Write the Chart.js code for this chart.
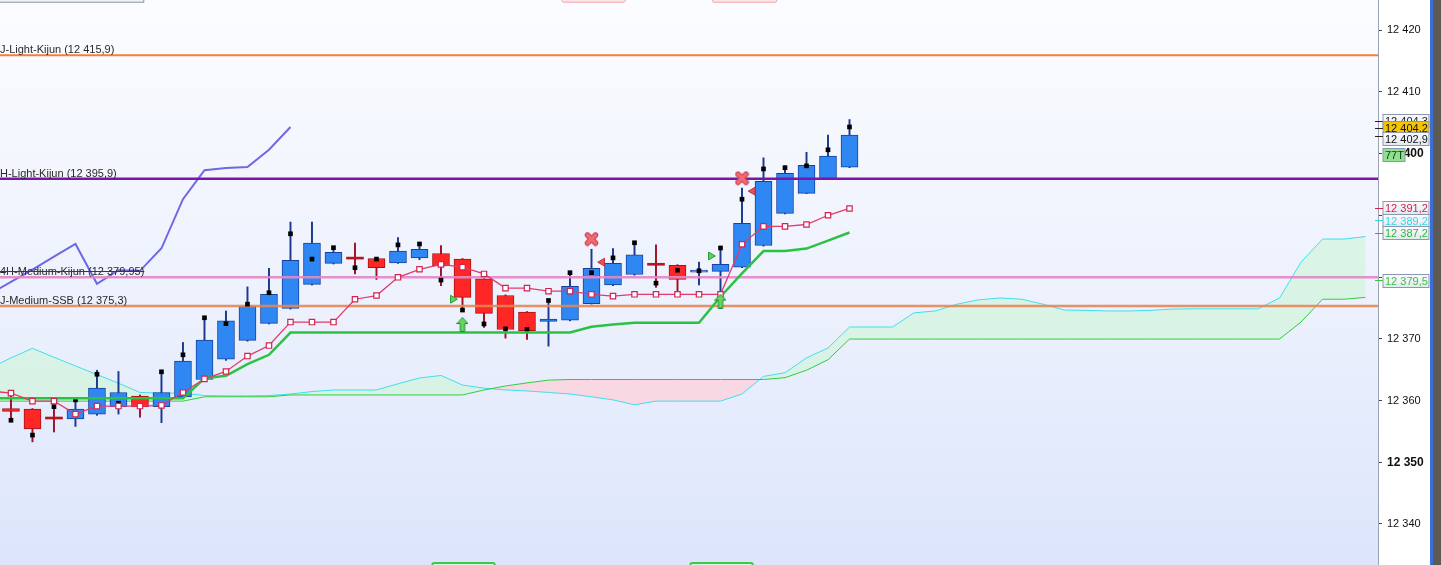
<!DOCTYPE html>
<html>
<head>
<meta charset="utf-8">
<title>Ichimoku chart</title>
<script src="https://cdn.jsdelivr.net/npm/chart.js@4/dist/chart.umd.min.js"></script>
<style>
html,body{margin:0;padding:0;background:#ffffff;overflow:hidden;}
#box{position:relative;width:1441px;height:565px;}
canvas{display:block;}
</style>
</head>
<body>
<div id="box"><canvas id="chart" width="1441" height="565"></canvas></div>
<script>
// ---------- DATA ----------
const bars = Array.from({length: 40}, (_, i) => i);
const opens  = [12358.7,12358.6,12357.0,12357.0,12357.8,12359.0,12360.7,12359.0,12360.6,12363.4,12366.7,12369.75,12372.5,12374.9,12378.8,12382.2,12382.9,12383.0,12382.3,12383.1,12383.8,12382.9,12379.7,12377.0,12374.3,12372.8,12373.0,12375.7,12378.7,12380.4,12381.9,12381.9,12380.8,12380.9,12381.6,12385.1,12390.3,12393.55,12395.9,12397.8];
const highs  = [12361.2,12358.7,12359.3,12360.1,12364.9,12364.7,12360.9,12364.9,12369.4,12373.4,12374.5,12378.4,12381.4,12388.9,12388.9,12384.9,12385.5,12383.2,12386.4,12385.3,12385.1,12383.0,12379.8,12377.1,12374.4,12376.2,12380.7,12384.5,12384.6,12385.6,12385.2,12382.0,12382.4,12385.0,12394.4,12399.3,12398.0,12400.2,12403.0,12405.5];
const lows   = [12356.8,12353.3,12354.9,12355.8,12357.6,12357.8,12357.3,12356.4,12360.4,12363.2,12366.5,12369.6,12372.4,12374.8,12378.7,12382.1,12380.5,12379.6,12382.2,12382.8,12378.6,12374.7,12371.85,12370.1,12369.9,12368.8,12372.9,12375.6,12378.6,12380.3,12378.3,12377.25,12378.7,12376.8,12381.5,12385.0,12390.2,12393.5,12395.8,12397.7];
const closes = [12358.25,12355.4,12357.0,12358.6,12362.0,12361.3,12359.0,12361.3,12366.4,12369.8,12372.9,12375.3,12377.2,12382.7,12385.5,12384.0,12382.9,12381.5,12384.2,12384.5,12381.8,12376.7,12374.1,12371.5,12371.3,12373.2,12378.5,12381.4,12382.2,12383.6,12381.9,12379.6,12381.1,12382.05,12388.7,12395.5,12396.8,12398.1,12399.6,12403.0];
const dots   = [12356.8,12354.4,12359.0,12360.1,12364.25,12359.55,null,12364.65,12367.4,12373.4,12372.45,12375.6,12377.45,12387.0,12382.9,12384.75,12381.5,12382.9,12385.2,12385.35,12379.5,12374.65,12372.4,12371.6,12371.5,12376.2,12380.7,12380.7,12383.1,12385.55,12379.0,12381.1,12381.0,12384.7,12392.6,12397.5,12397.7,12398.0,12400.6,12404.3];

// lines starting at bar -1
const LINE_START = -1;
const tenkan = [12361.55,12361.2,12359.9,12359.9,12357.8,12359.1,12359.1,12359.1,12359.2,12361.3,12363.5,12364.7,12367.2,12368.9,12372.7,12372.7,12372.7,12376.4,12377.0,12379.95,12381.25,12382.05,12381.6,12380.5,12378.2,12378.2,12377.7,12377.7,12377.2,12376.9,12377.2,12377.2,12377.2,12377.2,12377.2,12385.3,12388.2,12388.2,12388.5,12390.0,12391.1];
const kijun  = [12360.35,12360.35,12360.35,12360.35,12360.35,12360.35,12360.35,12360.35,12360.35,12360.35,12363.6,12364.0,12365.9,12367.4,12371.0,12371.0,12371.0,12371.0,12371.0,12371.0,12371.0,12371.0,12371.0,12371.0,12371.0,12371.0,12371.0,12371.0,12371.95,12372.3,12372.6,12372.6,12372.6,12372.6,12376.8,12380.6,12384.2,12384.2,12384.6,12385.9,12387.2];
const spanA  = [12365.2,12366.9,12368.45,12367.0,12365.6,12364.2,12362.8,12361.3,12361.2,12361.2,12360.8,12360.75,12360.75,12360.8,12361.05,12361.45,12361.7,12361.7,12361.7,12362.7,12363.65,12364.05,12362.5,12362.0,12361.7,12361.55,12361.3,12361.05,12360.6,12360.1,12359.3,12359.9,12359.9,12359.9,12359.9,12361.05,12363.9,12364.5,12366.9,12368.5,12371.9,12371.9,12371.9,12374.2,12374.5,12375.6,12376.3,12376.6,12376.4,12375.6,12374.65,12374.6,12374.5,12374.5,12374.6,12374.8,12374.85,12374.85,12374.85,12374.85,12376.6,12382.4,12386.15,12386.15,12386.55];
const spanB  = [12359.9,12359.9,12359.9,12359.9,12359.9,12359.9,12359.9,12359.9,12359.9,12359.9,12360.6,12360.6,12360.6,12360.6,12360.9,12360.9,12360.9,12360.9,12360.9,12360.9,12360.9,12360.9,12360.9,12361.7,12362.35,12362.85,12363.3,12363.4,12363.4,12363.4,12363.4,12363.4,12363.4,12363.4,12363.4,12363.4,12363.4,12363.7,12364.9,12366.6,12369.95,12369.95,12369.95,12369.95,12369.95,12369.95,12369.95,12369.95,12369.95,12369.95,12369.95,12369.95,12369.95,12369.95,12369.95,12369.95,12369.95,12369.95,12369.95,12369.95,12369.95,12372.7,12376.4,12376.4,12376.7];
const chikou = [12377.25,12379.2,12381.2,12383.3,12385.35,12378.9,12381.1,12381.0,12384.65,12392.6,12397.3,12397.65,12397.8,12400.6,12404.3];

// signals
const crossSignals   = [{x:27, y:12386.15}, {x:34, y:12396.0}];
const leftTriangles  = [{x:27.5, y:12382.4}, {x:34.5, y:12393.9}];
const rightTriangles = [{x:20.55, y:12376.4}, {x:32.55, y:12383.4}];
const upArrows       = [{x:21, y:12372.3}, {x:33, y:12376.1}];

// horizontal levels
const levelValues = [12415.9, 12395.9, 12379.95, 12375.3];
const levelNames  = ['J-Light-Kijun (12 415,9)', 'H-Light-Kijun (12 395,9)', '4H-Medium-Kijun (12 379,95)', 'J-Medium-SSB (12 375,3)'];
const levelStruck = [false, false, true, false];

// right-hand price tags
const tagValues = [12405.3, 12404.2, 12402.9, 12399.9, 12391.2, 12389.2, 12387.2, 12379.5];
const tagLabels = ['12 404,3', '12 404,2', '12 402,9', '77T', '12 391,2', '12 389,2', '12 387,2', '12 379,5'];

// partial zone boxes at the top and bottom edges (bar ranges)
const topZones    = [[25.6, 28.55], [32.6, 35.6]];
const bottomZones = [[19.6, 22.5], [31.6, 34.5]];
const panelZone   = [-0.6, 6.2];

// axis range
const X_MIN = -0.51, X_MAX = 63.58;
const Y_MIN = 12333.36, Y_MAX = 12424.86;

// ---------- STYLE ----------
const FONT = '"Liberation Sans", Arial, sans-serif';
const levelColors = ['#f07f3e', '#7b14a8', 'rgba(226,136,200,0.92)', 'rgba(230,134,86,0.9)'];
const levelWidths = [2, 2.5, 2.5, 2.5];
const tagText = ['#222222', '#111111', '#111111', '#17361a', '#d41f4e', '#33dbe9', '#2cb83a', '#39c63c'];
const tagFill = ['#eef0f6', '#f5c400', '#eef0f6', '#8fe08f', '#eef0f6', '#eef0f6', '#eef0f6', '#eef0f6'];
const tagTick = ['#222', '#222', '#222', null, '#d41f4e', '#33dbe9', '#2cb83a', '#39c63c'];
const tagNarrow = [false, false, false, true, false, false, false, false];
const tagBehind = [true, false, false, false, false, false, false, false];

function groupDigits(s) { return s.replace(/\B(?=(\d{3})+(?!\d))/g, ' '); }
function series(arr, start) {
  const out = [];
  arr.forEach((v, k) => { if (v !== null) out.push({x: start + k, y: v}); });
  return out;
}

const dir = bars.map(i => closes[i] > opens[i] ? 1 : (closes[i] < opens[i] ? -1 : 0));
const bodyFill   = dir.map(d => d > 0 ? '#2f87f4' : (d < 0 ? '#ff2626' : '#b4161c'));
const bodyBorder = dir.map(d => d > 0 ? '#17409f' : (d < 0 ? '#a31414' : '#b4161c'));
const bodyBW     = dir.map(d => d === 0 ? 0 : 1);
const wickColor  = dir.map(d => d > 0 ? '#1b3a8e' : '#a3102a');

function makeX() {
  const c = document.createElement('canvas'); c.width = 15; c.height = 15;
  const g = c.getContext('2d'); g.lineCap = 'round';
  g.beginPath(); g.moveTo(3.5, 3.5); g.lineTo(11.5, 11.5); g.moveTo(11.5, 3.5); g.lineTo(3.5, 11.5);
  g.strokeStyle = '#c63c4a'; g.lineWidth = 5.5; g.stroke();
  g.strokeStyle = '#f26a74'; g.lineWidth = 3.5; g.stroke();
  return c;
}
function makeArrow() {
  const c = document.createElement('canvas'); c.width = 12; c.height = 15;
  const g = c.getContext('2d');
  g.beginPath(); g.moveTo(6, 0.5); g.lineTo(11.5, 6.5); g.lineTo(8.2, 6.5); g.lineTo(8.2, 14.5);
  g.lineTo(3.8, 14.5); g.lineTo(3.8, 6.5); g.lineTo(0.5, 6.5); g.closePath();
  g.fillStyle = '#66d862'; g.fill(); g.strokeStyle = '#1f8a2a'; g.lineWidth = 1; g.stroke();
  return c;
}

// ---------- PLUGINS ----------
const backgroundPlugin = {
  id: 'bg',
  beforeDraw(chart) {
    const {ctx, chartArea: a, width: W, height: H} = chart;
    ctx.save();
    ctx.fillStyle = '#ffffff'; ctx.fillRect(0, 0, W, H);
    const gr = ctx.createLinearGradient(0, a.top, 0, a.bottom);
    gr.addColorStop(0, '#fbfcff'); gr.addColorStop(0.5, '#eef2fd'); gr.addColorStop(1, '#dce5fb');
    ctx.fillStyle = gr; ctx.fillRect(a.left, a.top, a.right - a.left, a.bottom - a.top);
    ctx.restore();
  }
};

const levelPlugin = {
  id: 'levels',
  afterDatasetDraw(chart, args) {
    if (args.index !== 4) return;
    const {ctx, chartArea: a, scales: {y}} = chart;
    ctx.save();
    ctx.beginPath(); ctx.rect(a.left, a.top, a.right - a.left, a.bottom - a.top); ctx.clip();
    levelValues.forEach((v, k) => {
      const py = y.getPixelForValue(v);
      ctx.strokeStyle = levelColors[k]; ctx.lineWidth = levelWidths[k];
      ctx.beginPath(); ctx.moveTo(a.left, py); ctx.lineTo(a.right, py); ctx.stroke();
      ctx.font = '11px ' + FONT; ctx.fillStyle = '#2a2a2a'; ctx.textBaseline = 'alphabetic'; ctx.textAlign = 'left';
      const base = py - 2;
      ctx.fillText(levelNames[k], a.left, base);
      if (levelStruck[k]) {
        const w = ctx.measureText(levelNames[k]).width;
        ctx.strokeStyle = '#3a3a3a'; ctx.lineWidth = 1;
        ctx.beginPath(); ctx.moveTo(a.left, Math.round(base - 4) + 0.5); ctx.lineTo(a.left + w, Math.round(base - 4) + 0.5); ctx.stroke();
      }
    });
    ctx.restore();
  }
};

const overlayPlugin = {
  id: 'overlay',
  afterDraw(chart) {
    const {ctx, chartArea: a, scales: {x, y}, width: W, height: H} = chart;
    ctx.save();
    // zones at edges
    const topEdge = y.getPixelForValue(12424.5);
    const botEdge = y.getPixelForValue(12333.7);
    ctx.fillStyle = '#eef1f7'; ctx.strokeStyle = '#8c94a4'; ctx.lineWidth = 1;
    const px0 = x.getPixelForValue(panelZone[0]), px1 = x.getPixelForValue(panelZone[1]);
    ctx.fillRect(px0, -4, px1 - px0, topEdge + 4);
    ctx.strokeRect(px0 + 0.5, -4, px1 - px0 - 1, topEdge + 4);
    topZones.forEach(z => {
      const l = x.getPixelForValue(z[0]), r = x.getPixelForValue(z[1]);
      ctx.beginPath(); ctx.roundRect(l + 0.5, -6, r - l, topEdge + 6, 2);
      ctx.fillStyle = '#fde6e9'; ctx.fill(); ctx.strokeStyle = '#f2a2ab'; ctx.stroke();
    });
    bottomZones.forEach(z => {
      const l = x.getPixelForValue(z[0]), r = x.getPixelForValue(z[1]);
      ctx.beginPath(); ctx.roundRect(l, botEdge, r - l, H - botEdge + 6, 2);
      ctx.fillStyle = '#e4f7e6'; ctx.fill(); ctx.strokeStyle = '#3cc84a'; ctx.lineWidth = 2; ctx.stroke();
    });
    ctx.lineWidth = 1;
    // price tags on the right axis
    const left = a.right + 5, right = W - 12, h = 13;
    let prev = -1e9;
    const order = tagValues.map((v, k) => k).sort((p, q) => tagValues[q] - tagValues[p]);
    order.forEach(k => {
      let cy = y.getPixelForValue(tagValues[k]);
      if (!tagBehind[k]) { cy = Math.max(cy, prev + 11); prev = cy; }
      const w = tagNarrow[k] ? 22 : right - left;
      const top = Math.round(cy - h / 2) + 0.5;
      let fill = tagFill[k];
      if (fill === '#eef0f6') {
        const g = ctx.createLinearGradient(0, top, 0, top + h);
        g.addColorStop(0, '#fbfcff'); g.addColorStop(1, '#e2e7f0'); fill = g;
      }
      ctx.fillStyle = fill; ctx.fillRect(left, top, w, h);
      ctx.strokeStyle = '#8d98ae'; ctx.strokeRect(left, top, w, h);
      ctx.font = '11px ' + FONT; ctx.fillStyle = tagText[k]; ctx.textBaseline = 'middle'; ctx.textAlign = 'left';
      ctx.fillText(tagLabels[k], left + 2, top + h / 2 + 0.5);
      if (tagTick[k]) {
        ctx.strokeStyle = tagTick[k]; ctx.beginPath();
        const ty = Math.round(y.getPixelForValue(tagValues[k])) + 0.5;
        ctx.moveTo(a.right - 3, ty); ctx.lineTo(left, ty); ctx.stroke();
      }
    });
    // right edge frame
    ctx.fillStyle = '#3b6fd6'; ctx.fillRect(W - 11, 0, 3, H);
    ctx.fillStyle = '#5c5a52'; ctx.fillRect(W - 8, 0, 8, H);
    ctx.restore();
  }
};

// ---------- CHART ----------
const crossImg = makeX();
const arrowImg = makeArrow();
const tickHidden = v => tagValues.some((t, k) => !tagNarrow[k] && !tagBehind[k] && Math.abs(t - v) < 2.5);

new Chart(document.getElementById('chart'), {
  type: 'bar',
  data: {
    datasets: [
      { type: 'line', data: series(spanA, LINE_START), borderColor: '#3fe0ee', borderWidth: 1, pointRadius: 0,
        fill: {target: 1, above: 'rgba(212,245,222,0.78)', below: 'rgba(250,212,221,0.85)'}, order: 30 },
      { type: 'line', data: series(spanB, LINE_START), borderColor: '#2fcf3c', borderWidth: 1, pointRadius: 0, fill: false, order: 29 },
      { type: 'line', data: series(chikou, LINE_START), borderColor: '#6d69e4', borderWidth: 2, pointRadius: 0, fill: false, order: 28 },
      { type: 'bar', data: bars.map(i => ({x: i, y: [lows[i], highs[i]]})), backgroundColor: wickColor,
        barThickness: 1.3, grouped: false, order: 27 },
      { type: 'bar', data: bars.map(i => ({x: i, y: [opens[i], closes[i]]})), backgroundColor: bodyFill,
        borderColor: bodyBorder, borderWidth: bodyBW, borderSkipped: false, barThickness: 17, minBarLength: 2,
        grouped: false, order: 26 },
      { type: 'line', data: series(dots, 0), showLine: false, pointStyle: 'rect', pointRadius: 3.3,
        pointBackgroundColor: '#000000', pointBorderColor: '#000000', pointBorderWidth: 0, order: 25 },
      { type: 'line', data: series(kijun, LINE_START), borderColor: '#2bc244', borderWidth: 2.5, pointRadius: 0, fill: false, order: 24 },
      { type: 'line', data: series(tenkan, LINE_START), borderColor: '#e23a6a', borderWidth: 1.3, pointStyle: 'rect',
        pointRadius: 3.8, pointBackgroundColor: '#ffffff', pointBorderColor: '#d4234f', pointBorderWidth: 1.2, fill: false, order: 23 },
      { type: 'line', data: crossSignals, showLine: false, pointStyle: crossImg, order: 5 },
      { type: 'line', data: leftTriangles, showLine: false, pointStyle: 'triangle', rotation: -90, pointRadius: 4.5,
        pointBackgroundColor: '#e8505c', pointBorderColor: '#c03040', pointBorderWidth: 1, order: 4 },
      { type: 'line', data: rightTriangles, showLine: false, pointStyle: 'triangle', rotation: 90, pointRadius: 4.5,
        pointBackgroundColor: '#5ad65a', pointBorderColor: '#2a9a34', pointBorderWidth: 1, order: 3 },
      { type: 'line', data: upArrows, showLine: false, pointStyle: arrowImg, order: 2 }
    ]
  },
  options: {
    responsive: false,
    animation: false,
    devicePixelRatio: 1,
    events: [],
    layout: {padding: 0, autoPadding: false},
    plugins: {legend: {display: false}, tooltip: {enabled: false}},
    scales: {
      x: { type: 'linear', min: X_MIN, max: X_MAX, offset: false, display: false },
      y: {
        type: 'linear', position: 'right', min: Y_MIN, max: Y_MAX,
        grid: {drawOnChartArea: false, drawTicks: true, tickLength: 4, tickColor: '#444444'},
        border: {display: true, color: '#9aa4b6'},
        ticks: {
          stepSize: 10, includeBounds: false, padding: 5, color: '#111111',
          callback: v => tickHidden(v) ? '' : groupDigits(String(Math.round(v))),
          font: c => ({family: FONT, size: (c.tick && c.tick.value % 50 === 0) ? 12 : 11,
                       weight: (c.tick && c.tick.value % 50 === 0) ? 'bold' : 'normal'})
        },
        afterFit: s => { s.width = 63; s.paddingTop = 0; s.paddingBottom = 0; }
      }
    }
  },
  plugins: [backgroundPlugin, levelPlugin, overlayPlugin]
});
</script>
</body>
</html>
